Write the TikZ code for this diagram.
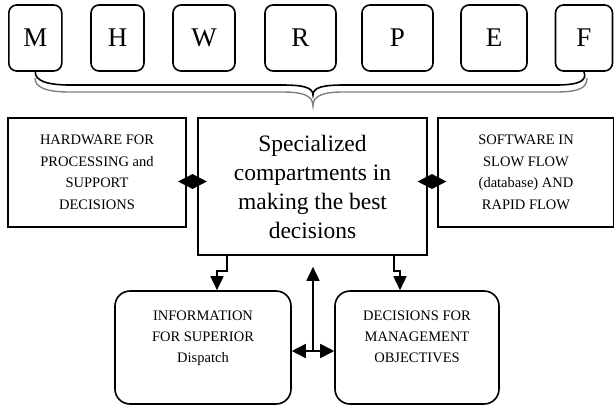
\documentclass[tikz,border=0pt]{standalone}
\usepackage{fontspec}
\setmainfont{Liberation Serif}
\usetikzlibrary{shapes.geometric,arrows.meta}

\begin{document}
\begin{tikzpicture}[x=1pt,y=-1pt]
        \tikzstyle{letter node}=[draw,line width=1.6pt,rounded corners=8pt,minimum height=66pt,inner sep=0pt,font=\fontsize{27}{30}\selectfont]
        \tikzstyle{side node}=[draw,line width=1.6pt,minimum height=109pt,align=center,inner sep=0pt,font=\fontsize{14.5}{21.5}\selectfont]
        \tikzstyle{main node}=[draw,line width=1.6pt,minimum width=229pt,minimum height=137pt,align=center,inner sep=0pt,font=\fontsize{23.5}{29}\selectfont]
        \tikzstyle{goal node}=[draw,line width=1.6pt,rounded corners=15pt,minimum height=113pt,align=center,inner sep=0pt,font=\fontsize{14.5}{21}\selectfont]
        \tikzstyle{knot}=[diamond,fill=black,minimum width=29pt,minimum height=15pt,inner sep=0pt]
        \tikzstyle{flow}=[line width=1.6pt,-{Triangle[length=14pt,width=13pt]}]
        \tikzstyle{both flow}=[line width=1.6pt,{Triangle[length=14pt,width=14pt]}-{Triangle[length=14pt,width=14pt]}]
        \useasboundingbox (0,0) rectangle (614,405);

        % top row
        \node[letter node,minimum width=53pt] (M) at (35.3,38) {M};
        \node[letter node,minimum width=53pt] (H) at (117.5,38) {H};
        \node[letter node,minimum width=62pt] (W) at (204,38) {W};
        \node[letter node,minimum width=71pt] (R) at (300.5,38) {R};
        \node[letter node,minimum width=71pt] (P) at (397.5,38) {P};
        \node[letter node,minimum width=66pt] (E) at (494,38) {E};
        \node[letter node,minimum width=57pt] (F) at (584,38) {F};

        % brace
        \coordinate (tip) at (313,95);
        \draw[line width=1.6pt] (M.south) .. controls (35,80) and (45,85) .. (70,85) -- (282,85)
            .. controls (302,85) and (313,87) .. (tip)
            .. controls (313,87) and (324,85) .. (344,85) -- (556,85)
            .. controls (581,85) and (587,80) .. (F.south);
        \draw[line width=1.4pt,gray] (35,78) .. controls (35,87) and (45,92) .. (70,92) -- (282,92)
            .. controls (302,92) and (313,95) .. (313,106)
            .. controls (313,95) and (324,92) .. (344,92) -- (556,92)
            .. controls (581,92) and (587,87) .. (587,78);

        % middle row
        \node[side node,minimum width=178pt] (hw) at (97,172.5) {HARDWARE FOR\\PROCESSING and\\SUPPORT\\DECISIONS};
        \node[main node] (spec) at (312.5,186.5) {Specialized\\compartments in\\making the best\\decisions};
        \node[side node,minimum width=176pt] (sw) at (526,172.5) {SOFTWARE IN\\SLOW FLOW\\(database) AND\\RAPID FLOW};
        \node[knot] (d1) at (192.5,181.5) {};
        \node[knot] (d2) at (432,181.5) {};

        % bottom row
        \node[goal node,minimum width=176pt] (info) at (203,347.5) {INFORMATION\\FOR SUPERIOR\\Dispatch\\~};
        \node[goal node,minimum width=164pt] (dec) at (417,347.5) {DECISIONS FOR\\MANAGEMENT\\OBJECTIVES\\~};

        \draw[flow] ([xshift=30pt]spec.south west) |- ([xshift=14pt,yshift=19pt]info.north) -- ([xshift=14pt]info.north);
        \draw[flow] ([xshift=-34pt]spec.south east) |- ([xshift=-17pt,yshift=19pt]dec.north) -- ([xshift=-17pt]dec.north);
        \draw[both flow] ([yshift=-3.5pt]info.east) -- coordinate (mid) ([yshift=-3.5pt]dec.west);
        \draw[flow] (mid) -- ([yshift=-11pt]spec.south -| mid);
\end{tikzpicture}
\end{document}
